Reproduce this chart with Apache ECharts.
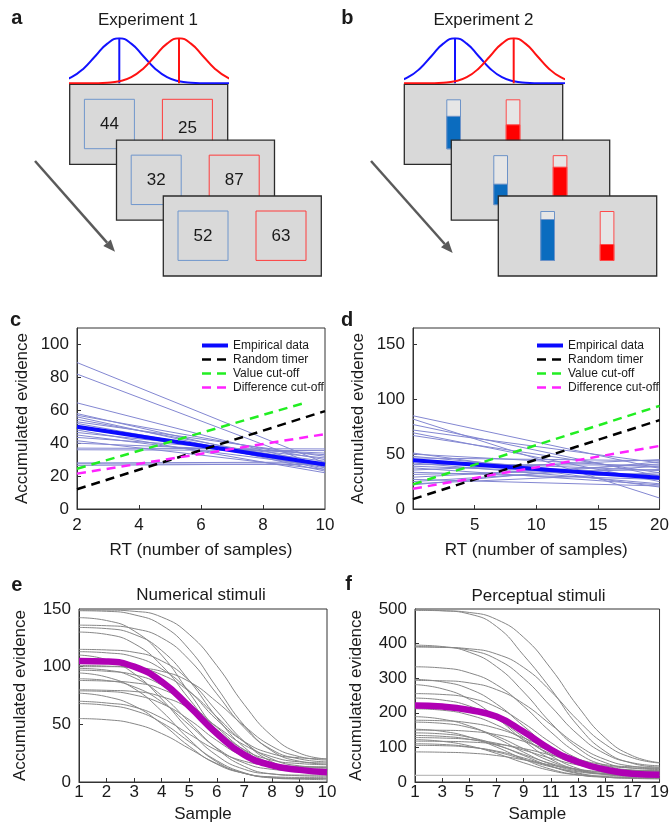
<!DOCTYPE html>
<html>
<head>
<meta charset="utf-8">
<script src="https://cdn.jsdelivr.net/npm/echarts@6/dist/echarts.min.js"></script>
<style>
  html, body { margin: 0; padding: 0; background: #fff; }
  #main { width: 672px; height: 832px; }
</style>
</head>
<body>
<div id="main"></div>
<script>
// ---------- data ----------
// a: numbers in the blue / red boxes of the three frames
const exp1Blue = [44, 32, 52]
const exp1Red = [25, 87, 63]
// b: fill level of the blue / red bars of the three frames
const exp2Blue = [0.67, 0.43, 0.84]
const exp2Red = [0.5, 0.77, 0.34]
// shape of the two distributions (offset in sd, height)
const gaussOffset = [-5, -4.5, -4, -3.5, -3, -2.5, -2, -1.5, -1, -0.5, 0, 0.5, 1, 1.5, 2, 2.5, 3, 3.5, 4, 4.5, 5]
const gaussHeight = [0, 0.00004, 0.0003, 0.0022, 0.0111, 0.0439, 0.1353, 0.3247, 0.6065, 0.8825, 1,
  0.8825, 0.6065, 0.3247, 0.1353, 0.0439, 0.0111, 0.0022, 0.0003, 0.00004, 0]
const gaussMeans = [0, 2.5]

// c: experiment 1, lines from RT 2 to RT 10
const cX = [2, 10]
const cSubjects = [
  [89, 28], [82, 25], [64.5, 26], [58, 24], [57, 30], [56, 23], [54.5, 27], [53, 32], [52, 25],
  [49, 29], [48, 22], [46.5, 31], [45, 26], [43.5, 33], [41.5, 24], [40, 34], [37, 36.5],
  [36, 35.5], [28, 28.5], [27.5, 27], [26.5, 27.5]
]
const cEmpirical = [50, 27]
const cTimer = [12, 59.5]
const cValue = [24.5, 64.5]
const cValueX = [2, 9.35]
const cDiff = [21.5, 45.5]
const cXLabels = [2, 4, 6, 8, 10]
const cXTicks = [4, 6, 8]
const cYLabels = [0, 20, 40, 60, 80, 100]
const cYTicks = [20, 40, 60, 80, 100]

// d: experiment 2, lines from RT 0 to RT 20
const dX = [0, 20]
const dSubjects = [
  [85, 37], [82, 10], [77, 30], [72, 42], [69.5, 25], [67, 33], [51, 20], [50, 38], [48, 28],
  [46.5, 44], [44, 35], [42, 23], [40.5, 40], [39, 31], [37.5, 22], [35.5, 45], [33.5, 27],
  [31.5, 36], [29, 41], [27, 21], [25, 39], [23, 33], [22, 43]
]
const dEmpirical = [44.5, 28.5]
const dTimer = [9, 81]
const dValue = [22.5, 94]
const dDiff = [18.5, 57.5]
const dXLabels = [5, 10, 15, 20]
const dXTicks = [5, 10, 15]
const dYLabels = [0, 50, 100, 150]
const dYTicks = [50, 100, 150]

// e: numerical stimuli, samples 1..10
const eX = [1, 2, 3, 4, 5, 6, 7, 8, 9, 10]
const eCurves = [
  [149, 149, 148, 143, 128, 101, 67, 40, 25, 20],
  [148.5, 148, 145, 136, 115, 82, 49, 27, 18, 15.5],
  [142.5, 140, 131, 110, 77.5, 45, 24, 15, 12.5, 12],
  [136, 135.5, 133, 125, 106, 76.5, 47, 28, 20, 17.5],
  [134, 133, 128, 114, 88, 56, 30, 16, 11, 10],
  [130, 128, 120, 101, 72, 43, 24, 16, 13.5, 13],
  [115, 114.5, 112.5, 105, 88, 61.5, 35, 17.5, 10.5, 8.5],
  [113, 112, 108.5, 98, 79, 54, 35, 24.5, 21, 20],
  [110, 106, 94, 72, 45, 23, 11, 7, 6, 6],
  [101, 100.5, 99, 93, 78.5, 56.5, 34.5, 20, 14, 12.5],
  [100, 100, 99, 96, 87, 69.5, 48.5, 31, 22, 19],
  [98.5, 97, 90.5, 75, 52, 29, 13.5, 7, 5.5, 5],
  [97, 96, 93, 84, 66.5, 45.5, 28, 19, 16, 15],
  [94.5, 91, 81, 61.5, 37, 17.5, 7.5, 4, 3, 3],
  [89.5, 88, 82.5, 69.5, 49.5, 29.5, 16.5, 11, 9.5, 9],
  [88, 87.5, 86, 80.5, 67.5, 47.5, 27.5, 14.5, 9, 7.5],
  [80, 79.5, 78.5, 74, 64, 48, 32, 22, 17.5, 16.5],
  [79, 78.5, 75.5, 68, 54, 36, 22, 14.5, 11.5, 11],
  [77, 74, 66, 50.5, 31, 15.5, 7.5, 4.5, 4, 4],
  [70, 68.5, 65, 55.5, 41.5, 27.5, 18, 14.5, 13, 13],
  [68, 66.5, 62, 51.5, 35, 18.5, 8, 3.5, 2.5, 2],
  [55, 54, 50.5, 42, 29, 16, 7.5, 4, 3, 3]
]
const eMean = [105, 104.5, 100, 87, 65.5, 42, 23.5, 14.5, 10.5, 8.5]
const eXTicks = [2, 3, 4, 5, 6, 7, 8, 9]
const eYLabels = [0, 50, 100, 150]
const eYTicks = [50, 100]

// f: perceptual stimuli, odd samples 1..19
const fX = [1, 3, 5, 7, 9, 11, 13, 15, 17, 19]
const fCurves = [
  [497.5, 495, 485.5, 449.5, 366, 269, 162, 88.5, 54, 43],
  [496, 495, 490, 470, 418, 328, 218, 127.5, 76, 56],
  [395.5, 391.5, 375, 333.5, 260, 171, 98, 56, 40, 36],
  [391.5, 389.5, 381, 355, 299.5, 218.5, 137, 81.5, 55.5, 47],
  [390, 389, 385, 370, 331, 262, 178, 109, 70, 55],
  [333, 329.5, 315.5, 281, 219, 144.5, 83, 48, 34.5, 31],
  [296.5, 289.5, 269, 225.5, 161.5, 97.5, 54, 33, 26.5, 25.5],
  [293.5, 292.5, 286.5, 267, 226, 166, 106, 65, 45.5, 39.5],
  [281.5, 269.5, 239, 185.5, 120, 66, 35.5, 23.5, 20.5, 20],
  [255.5, 253, 243, 216.5, 170, 114, 67.5, 41.5, 31, 28.5],
  [242.5, 237, 219.5, 183, 129.5, 76, 39, 22, 16.5, 15],
  [211.5, 207.5, 193.5, 165, 123, 81, 52, 38.5, 34, 33],
  [189, 181.5, 162, 127.5, 86, 51.5, 32, 24.5, 22.5, 22],
  [178.5, 177, 171, 155, 127.5, 93.5, 66, 50, 44, 42.5],
  [173, 169.5, 157.5, 132.5, 96, 59.5, 34.5, 22.5, 19, 18],
  [152.5, 146.5, 130, 101, 66, 37, 20.5, 14, 12.5, 12],
  [150, 149.5, 146.5, 137, 117.5, 89, 60.5, 41, 31.5, 28.5],
  [142, 139, 129, 107.5, 76.5, 45.5, 24, 14, 11, 10],
  [134.5, 132, 123.5, 106, 79.5, 53.5, 36, 27.5, 24.5, 24],
  [128.5, 127, 123, 112, 92, 68.5, 49, 37.5, 33.5, 32],
  [122.5, 117.5, 104.5, 82.5, 55.5, 33, 20.5, 15.5, 14.5, 14],
  [118, 117.5, 115.5, 109.5, 96.5, 78, 59.5, 46.5, 40.5, 38.5],
  [110.5, 108.5, 101.5, 87, 65.5, 44, 29.5, 22.5, 20.5, 20],
  [106, 105, 100.5, 89.5, 69.5, 45.5, 26, 14.5, 10.5, 9],
  [87, 86, 83.5, 76.5, 64, 49, 36.5, 29.5, 27, 26]
]
const fFlat = [19, 19, 19, 19, 19, 19, 19, 19, 19, 19]
const fMean = [221, 218, 208, 189, 145, 94, 58, 36, 24, 21]
const fXTicks = [3, 5, 7, 9, 11, 13, 15, 17]
const fYLabels = [0, 100, 200, 300, 400, 500]
const fYTicks = [100, 200, 300, 400]

const legendNames = ['Empirical data', 'Random timer', 'Value cut-off', 'Difference cut-off']

// ---------- styles ----------
const INK = '#1a1a1a'
const FONT = '"Liberation Sans", Arial, Helvetica, sans-serif'
const SUBJ = '#8387d2'
const BLUE = '#0a0aff'
const GREEN = '#22ee22'
const MAGENTA = '#ff22ff'
const GRAY = '#878787'
const PURPLE = '#b000b4'
const DASH = [9, 6]
const CURVE = { smooth: 0.5 }

const grid = [], xAxis = [], yAxis = [], series = [], graphic = []

function addGrid(g, xa, ya) {
  const i = grid.length
  grid.push(g)
  xAxis.push(Object.assign({ gridIndex: i }, xa))
  yAxis.push(Object.assign({ gridIndex: i }, ya))
  return i
}

function line(gi, data, style, extra) {
  return Object.assign({
    type: 'line', xAxisIndex: gi, yAxisIndex: gi, data: data,
    symbol: 'none', showSymbol: false, silent: true, animation: false,
    lineStyle: style
  }, extra || {})
}

function text(x, y, str, font, z) {
  return {
    type: 'text', x: x, y: y, z: z || 10,
    style: { text: str, font: font, fill: INK, align: 'center', verticalAlign: 'middle',
      textAlign: 'center', textVerticalAlign: 'middle' }
  }
}

function axis(min, max, labels, ticks, name, nameGap, margin) {
  return {
    type: 'value', min: min, max: max,
    name: name, nameLocation: 'middle', nameGap: nameGap,
    nameTextStyle: { fontSize: 17, color: INK, fontFamily: FONT },
    axisLine: { show: true, onZero: false, lineStyle: { color: '#333', width: 1 } },
    axisTick: { show: true, inside: true, length: 4, lineStyle: { color: '#333' }, customValues: ticks },
    axisLabel: { fontSize: 17, color: INK, fontFamily: FONT, margin: margin, customValues: labels },
    splitLine: { show: false }
  }
}

// ---------- a / b : distributions ----------
function addGauss(left, width, xmin, xmax) {
  const gi = addGrid({ left: left, top: 38.3, width: width, height: 45 },
    { type: 'value', min: xmin, max: xmax, show: false },
    { type: 'value', min: 0, max: 1, show: false })
  gaussMeans.forEach((m, k) => {
    const color = k === 0 ? '#1212ff' : '#ff1212'
    series.push(line(gi, gaussOffset.map((o, j) => [m + o, gaussHeight[j]]), { color: color, width: 2 }, { smooth: true }))
    series.push(line(gi, [[m, 0], [m, 1]], { color: color, width: 2 }))
  })
}
addGauss(70, 157.7, -2.064, 4.539)
addGauss(405, 158.7, -2.13, 4.63)

// ---------- a : frames with numbers ----------
exp1Blue.forEach((b, i) => {
  const x = 69.7 + 46.8 * i, y = 84.3 + 55.85 * i
  graphic.push({ type: 'rect', z: 1 + 2 * i, shape: { x: x, y: y, width: 158, height: 80 },
    style: { fill: '#d9d9d9', stroke: '#2b2b2b', lineWidth: 1.3 } })
  graphic.push({ type: 'rect', z: 2 + 2 * i, shape: { x: x + 14.7, y: y + 15, width: 50, height: 49.4 },
    style: { fill: 'none', stroke: '#6f96cc', lineWidth: 1 } })
  graphic.push({ type: 'rect', z: 2 + 2 * i, shape: { x: x + 92.7, y: y + 15, width: 50, height: 49.4 },
    style: { fill: 'none', stroke: '#ff3c3c', lineWidth: 1 } })
  graphic.push(text(x + 39.7, y + 40, String(b), '17px ' + FONT, 2 + 2 * i))
  graphic.push(text(x + 117.7, y + 40 + (i === 0 ? 4.5 : 0), String(exp1Red[i]), '17px ' + FONT, 2 + 2 * i))
})

// ---------- b : frames with bars ----------
exp2Blue.forEach((fb, i) => {
  const x = 404.3 + 47 * i, y = 84.3 + 55.85 * i
  graphic.push({ type: 'rect', z: 1 + 2 * i, shape: { x: x, y: y, width: 158.4, height: 80 },
    style: { fill: '#d9d9d9', stroke: '#2b2b2b', lineWidth: 1.3 } })
  const gi = addGrid({ left: x + 19.65, top: y + 15, width: 118.8, height: 50 },
    { type: 'category', data: ['blue', 'red'], show: false },
    { type: 'value', min: 0, max: 1, show: false })
  const bar = { type: 'bar', xAxisIndex: gi, yAxisIndex: gi, z: 2 + 2 * i, barWidth: 14.7, barGap: '-100%', silent: true, animation: false }
  series.push(Object.assign({}, bar, { data: [
    { value: 1, itemStyle: { color: '#e6e6e6', borderColor: '#6d93c8', borderWidth: 1 } },
    { value: 1, itemStyle: { color: '#e6e6e6', borderColor: '#ff4a4a', borderWidth: 1 } }] }))
  series.push(Object.assign({}, bar, { data: [
    { value: fb, itemStyle: { color: '#0b6cbf', borderColor: '#6d93c8', borderWidth: 1 } },
    { value: exp2Red[i], itemStyle: { color: '#ff0000', borderColor: '#ff4a4a', borderWidth: 1 } }] }))
})

// arrows
function arrow(x1, y1, x2, y2) {
  const len = Math.hypot(x2 - x1, y2 - y1), ux = (x2 - x1) / len, uy = (y2 - y1) / len
  const bx = x2 - ux * 12, by = y2 - uy * 12
  graphic.push({ type: 'line', z: 1, shape: { x1: x1, y1: y1, x2: bx, y2: by }, style: { stroke: '#5a5a5a', lineWidth: 2.5 } })
  graphic.push({ type: 'polygon', z: 1, shape: { points: [[x2, y2], [bx - uy * 5, by + ux * 5], [bx + uy * 5, by - ux * 5]] },
    style: { fill: '#5a5a5a' } })
}
arrow(35, 161, 115, 251.7)
arrow(371, 161, 452.7, 253)

graphic.push(text(148, 20.7, 'Experiment 1', '17px ' + FONT))
graphic.push(text(483.5, 20.7, 'Experiment 2', '17px ' + FONT))

// ---------- c ----------
const gc = addGrid({ left: 77, top: 328, width: 248, height: 181, show: true, borderColor: '#333', borderWidth: 1 },
  axis(2, 10, cXLabels, cXTicks, 'RT (number of samples)', 33, 8),
  axis(0, 110, cYLabels, cYTicks, 'Accumulated evidence', 46, 8))
cSubjects.forEach(s => series.push(line(gc, [[cX[0], s[0]], [cX[1], s[1]]], { color: SUBJ, width: 1 })))
series.push(line(gc, [[cX[0], cEmpirical[0]], [cX[1], cEmpirical[1]]], { color: BLUE, width: 4 }, { name: legendNames[0] }))
series.push(line(gc, [[cX[0], cTimer[0]], [cX[1], cTimer[1]]], { color: '#000', width: 2.5, type: DASH }, { name: legendNames[1] }))
series.push(line(gc, [[cValueX[0], cValue[0]], [cValueX[1], cValue[1]]], { color: GREEN, width: 2.5, type: DASH }, { name: legendNames[2] }))
series.push(line(gc, [[cX[0], cDiff[0]], [cX[1], cDiff[1]]], { color: MAGENTA, width: 2.5, type: DASH }, { name: legendNames[3] }))

// ---------- d ----------
const gd = addGrid({ left: 413, top: 328, width: 247, height: 181, show: true, borderColor: '#333', borderWidth: 1 },
  axis(0, 20, dXLabels, dXTicks, 'RT (number of samples)', 33, 8),
  axis(0, 165, dYLabels, dYTicks, 'Accumulated evidence', 46, 8))
dSubjects.forEach(s => series.push(line(gd, [[dX[0], s[0]], [dX[1], s[1]]], { color: SUBJ, width: 1 })))
series.push(line(gd, [[dX[0], dEmpirical[0]], [dX[1], dEmpirical[1]]], { color: BLUE, width: 4 }, { name: legendNames[0] }))
series.push(line(gd, [[dX[0], dTimer[0]], [dX[1], dTimer[1]]], { color: '#000', width: 2.5, type: DASH }, { name: legendNames[1] }))
series.push(line(gd, [[dX[0], dValue[0]], [dX[1], dValue[1]]], { color: GREEN, width: 2.5, type: DASH }, { name: legendNames[2] }))
series.push(line(gd, [[dX[0], dDiff[0]], [dX[1], dDiff[1]]], { color: MAGENTA, width: 2.5, type: DASH }, { name: legendNames[3] }))

// ---------- e ----------
const ge = addGrid({ left: 79, top: 609, width: 248, height: 173, show: true, borderColor: '#333', borderWidth: 1 },
  axis(1, 10, eX, eXTicks, 'Sample', 23.5, 2),
  axis(0, 150, eYLabels, eYTicks, 'Accumulated evidence', 50, 8))
eCurves.forEach(c => series.push(line(ge, c.map((v, i) => [eX[i], v]), { color: GRAY, width: 1 }, CURVE)))
series.push(line(ge, eMean.map((v, i) => [eX[i], v]), { color: PURPLE, width: 6.5 }, CURVE))

// ---------- f ----------
const gf = addGrid({ left: 415, top: 609, width: 248, height: 173, show: true, borderColor: '#333', borderWidth: 1 },
  axis(1, 19, fX, fXTicks, 'Sample', 23.5, 2),
  axis(0, 500, fYLabels, fYTicks, 'Accumulated evidence', 50, 8))
series.push(line(gf, fFlat.map((v, i) => [fX[i], v]), { color: '#bdbdbd', width: 1.2 }))
fCurves.forEach(c => series.push(line(gf, c.map((v, i) => [fX[i], v]), { color: GRAY, width: 1 }, CURVE)))
series.push(line(gf, fMean.map((v, i) => [fX[i], v]), { color: PURPLE, width: 6.5 }, CURVE))

graphic.push(text(201, 595.7, 'Numerical stimuli', '17px ' + FONT))
graphic.push(text(538.5, 596.5, 'Perceptual stimuli', '17px ' + FONT))

// panel letters
const BOLD = 'bold 20px ' + FONT
graphic.push(text(16.7, 18.5, 'a', BOLD))
graphic.push(text(347.3, 18.5, 'b', BOLD))
graphic.push(text(15.5, 320.5, 'c', BOLD))
graphic.push(text(347, 320.5, 'd', BOLD))
graphic.push(text(16.7, 585.5, 'e', BOLD))
graphic.push(text(348.7, 584.5, 'f', BOLD))

// legends (c and d)
const legendItems = [
  { name: legendNames[0], lineStyle: { color: BLUE, width: 4 } },
  { name: legendNames[1], lineStyle: { color: '#000', width: 2.5, type: DASH } },
  { name: legendNames[2], lineStyle: { color: GREEN, width: 2.5, type: DASH } },
  { name: legendNames[3], lineStyle: { color: MAGENTA, width: 2.5, type: DASH } }
]
function legendAt(left) {
  return {
    left: left, top: 339.5, orient: 'vertical', padding: 0, itemWidth: 26, itemHeight: 10, itemGap: 2,
    selectedMode: false,
    itemStyle: { opacity: 0, borderWidth: 0 },
    textStyle: { fontSize: 12, color: INK, fontFamily: FONT },
    data: legendItems
  }
}

const chart = echarts.init(document.getElementById('main'), null, { renderer: 'canvas' })
chart.setOption({
  animation: false,
  backgroundColor: '#fff',
  textStyle: { fontFamily: FONT },
  grid: grid,
  xAxis: xAxis,
  yAxis: yAxis,
  legend: [legendAt(200), legendAt(535)],
  graphic: { elements: graphic },
  series: series
})
</script>
</body>
</html>
